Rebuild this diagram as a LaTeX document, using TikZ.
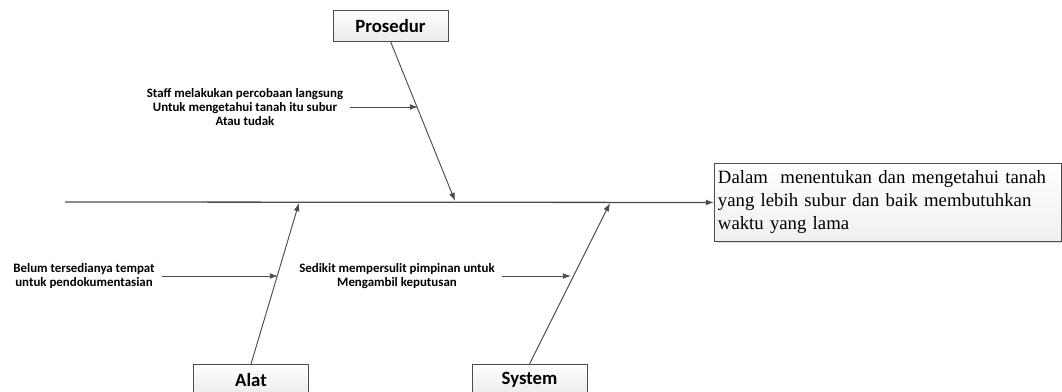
\documentclass[tikz,border=0pt]{standalone}
\usepackage{fontspec}
\setmainfont{Liberation Serif}
\newfontfamily\labelfont{Carlito}
\usetikzlibrary{arrows.meta}
\usetikzlibrary{shadows}
\colorlet{boneline}{black!70}
\colorlet{boxline}{black!70}
\tikzset{
  >={Latex[length=7,width=5]}, % small filled heads
  spine/.style={line width=1.1pt,boneline,->},
  bone/.style={line width=0.8pt,boneline,->},
  sub/.style={line width=0.8pt,boneline,->},
  category/.style={draw=boxline,line width=0.8pt,top color=white,bottom color=black!8,
    minimum width=3.45cm,minimum height=0.93cm,inner sep=0,
    font=\labelfont\bfseries\fontsize{16}{18}\selectfont},
  cause/.style={align=center,inner xsep=6pt,inner ysep=1pt,
    font=\labelfont\bfseries\fontsize{11}{11.8}\selectfont},
  effect/.style={draw=boxline,line width=0.8pt,top color=white,bottom color=black!6,
    drop shadow={opacity=0.25,shadow xshift=1pt,shadow yshift=-1pt},
    minimum width=10.41cm,minimum height=2.34cm,text width=10.2cm,align=left,
    inner sep=3pt,font=\fontsize{16}{19.6}\selectfont}
}

\begin{document}
\begin{tikzpicture}[x=0.03cm,y=-0.03cm]
    \clip (0,0) rectangle (1062,392);

    % Effect at the head
    \node[effect,anchor=north west] (effect) at (714,163)
        {Dalam\ \ menentukan dan mengetahui tanah yang lebih subur dan baik membutuhkan waktu yang lama};

    % Category boxes
    \node[category] (prosedur) at (390.5,25.5) {Prosedur};
    \node[category] (alat) at (251,380) {Alat};
    \node[category] (system) at (529.5,380) {System};

    % Spine
    \coordinate (tail) at (65,202);
    \draw[spine] (tail) -- (effect.west);

    % Bones onto the spine
    \coordinate (p) at (455,201);
    \coordinate (a) at (299,203);
    \coordinate (s) at (610,203);
    \draw[bone] (prosedur.south) -- (p);
    \draw[bone] (alat.north) -- (a);
    \draw[bone] (system.north) -- (s);

    % Causes
    \node[cause] (staff) at (245,107) {Staff melakukan percobaan langsung\\Untuk mengetahui tanah itu subur\\Atau tudak};
    \node[cause] (belum) at (84,276) {Belum tersedianya tempat\\untuk pendokumentasian};
    \node[cause] (sedikit) at (397,276) {Sedikit mempersulit pimpinan untuk\\Mengambil keputusan};

    \coordinate (p1) at (418,107);
    \coordinate (a1) at (278,276);
    \coordinate (s1) at (571,276);
    \draw[sub] (staff.east) -- (p1);
    \draw[sub] (belum.east) -- (a1);
    \draw[sub] (sedikit.east) -- (s1);
\end{tikzpicture}
\end{document}
